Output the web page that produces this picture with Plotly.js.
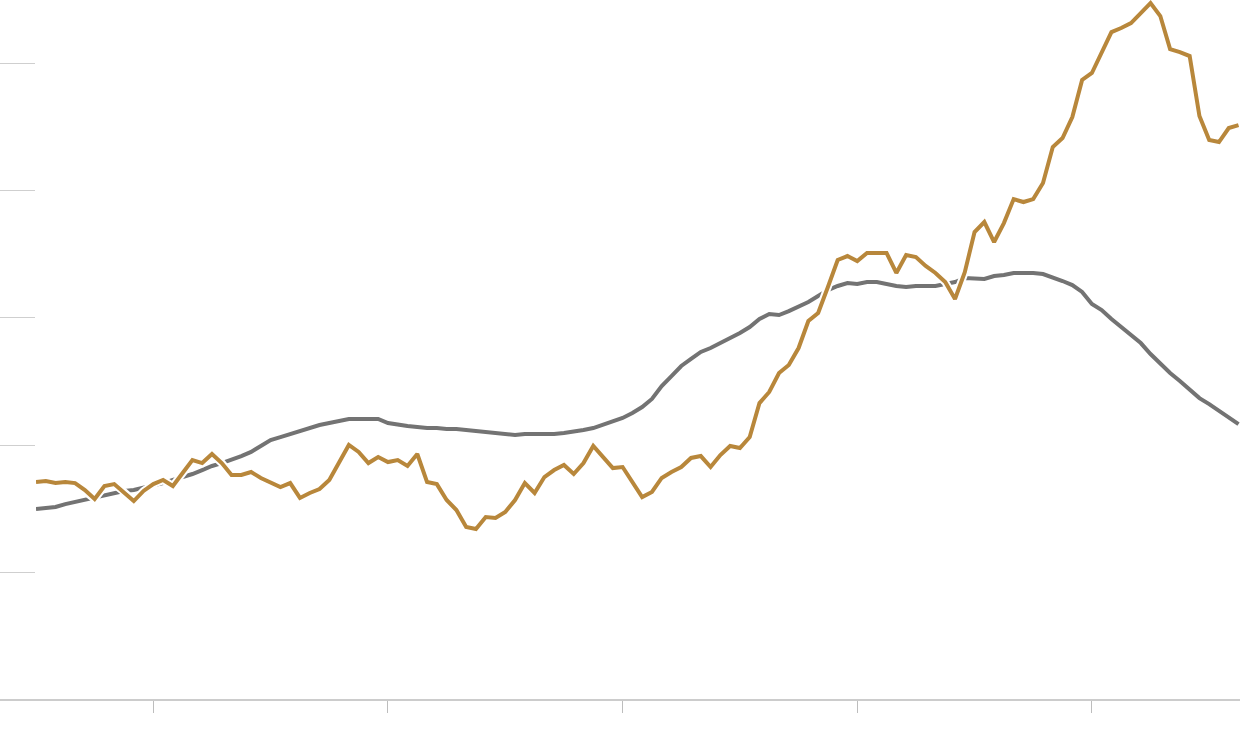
<!DOCTYPE html>
<html>
<head>
<meta charset="utf-8">
<script src="https://cdn.plot.ly/plotly-3.0.1.min.js"></script>
<style>
  html, body { margin: 0; padding: 0; background: #ffffff; }
  #chart { width: 1240px; height: 746px; }
</style>
</head>
<body>
<div id="chart"></div>
<script>
// Period index (124 periods)
const periods = Array.from({length: 124}, (_, i) => i);

// Series
const goldSeries = [
  171.1,171.9,170.3,171.1,170.3,164.8,157.8,168.0,169.5,163.3,
  156.2,164.1,169.5,172.7,168.0,178.2,188.4,186.0,193.1,186.0,
  176.6,176.6,179.0,174.3,171.1,167.2,170.3,158.6,162.5,165.6,
  172.7,186.0,200.2,194.7,186.0,190.7,186.8,188.4,183.7,193.1,
  171.1,169.5,157.0,149.1,135.8,134.2,143.6,142.9,147.6,157.0,
  170.3,162.5,175.0,180.5,184.5,177.4,186.0,199.4,190.7,182.1,
  182.9,171.1,159.3,163.3,174.3,179.0,182.9,190.0,191.5,182.9,
  192.3,199.4,197.8,206.4,233.1,241.8,256.7,263.0,276.3,297.5,
  303.8,324.2,345.4,348.5,344.6,350.9,350.9,350.9,335.2,349.3,
  347.7,340.7,335.2,328.1,314.8,335.9,367.3,375.2,359.5,374.4,
  393.2,390.9,393.2,405.8,434.1,441.1,457.6,486.7,492.2,507.8,
  524.3,527.5,531.4,539.2,547.1,536.9,511.0,508.6,505.5,458.4,
  439.6,438.0,449.0,451.3
];

const graySeries = [
  149.9,150.7,151.5,153.8,155.4,157.0,158.6,160.9,162.5,164.1,
  164.8,166.4,168.0,170.3,172.7,175.0,177.4,180.5,183.7,186.0,
  188.4,191.5,194.7,199.4,204.1,206.4,208.8,210.4,213.5,215.9,
  217.4,219.0,220.6,220.6,220.6,220.6,217.4,215.9,215.1,214.3,
  213.5,213.5,212.7,212.7,211.9,211.1,210.4,209.6,208.8,208.0,
  208.8,208.8,208.8,208.8,209.6,210.4,211.9,213.5,215.9,219.0,
  221.4,225.3,230.0,236.3,246.5,254.3,262.2,267.7,273.2,276.3,
  280.2,284.1,288.1,292.8,299.1,303.0,302.2,305.3,308.5,312.4,
  317.1,321.8,325.0,327.3,326.5,328.1,328.1,326.5,325.0,324.2,
  325.0,325.0,325.0,326.5,328.1,331.2,330.5,330.5,332.8,333.6,
  335.2,335.2,335.2,334.4,332.0,328.9,325.7,320.3,310.8,306.1,
  299.1,292.8,286.5,280.2,271.6,263.7,256.7,250.4,244.1,237.0,
  232.3,226.8,222.1,216.6
];

// Axis ticks (no labels in the reference)
const xTickVals = [12, 36, 60, 84, 108];
const yTickVals = [100, 200, 300, 400, 500];

const GOLD = '#b8873b';
const GRAY = '#737373';

const traces = [
  { x: periods, y: graySeries, type: 'scatter', mode: 'lines',
    line: { color: GRAY, width: 4 }, hoverinfo: 'skip' },
  { x: periods, y: goldSeries, type: 'scatter', mode: 'lines',
    line: { color: '#ffffff', width: 8 }, hoverinfo: 'skip' },
  { x: periods, y: goldSeries, type: 'scatter', mode: 'lines',
    line: { color: GOLD, width: 4 }, hoverinfo: 'skip' }
];

const layout = {
  width: 1240, height: 746,
  margin: { l: 36, r: 0, t: 0, b: 46, pad: 0 },
  paper_bgcolor: '#ffffff', plot_bgcolor: '#ffffff',
  showlegend: false, hovermode: false,
  xaxis: {
    range: [0, 123.15], showgrid: false, zeroline: false, showline: false,
    tickmode: 'array', tickvals: xTickVals, showticklabels: false,
    ticks: 'outside', ticklen: 12, tickwidth: 1, tickcolor: '#bdbdbd'
  },
  yaxis: {
    range: [0, 549.5], showgrid: false, zeroline: false, showline: false,
    tickmode: 'array', tickvals: yTickVals, showticklabels: false,
    ticks: 'outside', ticklen: 36, tickwidth: 1, tickcolor: '#cfcfcf'
  },
  shapes: [
    { type: 'line', xref: 'paper', yref: 'paper', x0: -36/1204, x1: 1, y0: 0, y1: 0,
      line: { color: '#cccccc', width: 2 } }
  ]
};

Plotly.newPlot('chart', traces, layout, { displayModeBar: false, staticPlot: true });
</script>
</body>
</html>
